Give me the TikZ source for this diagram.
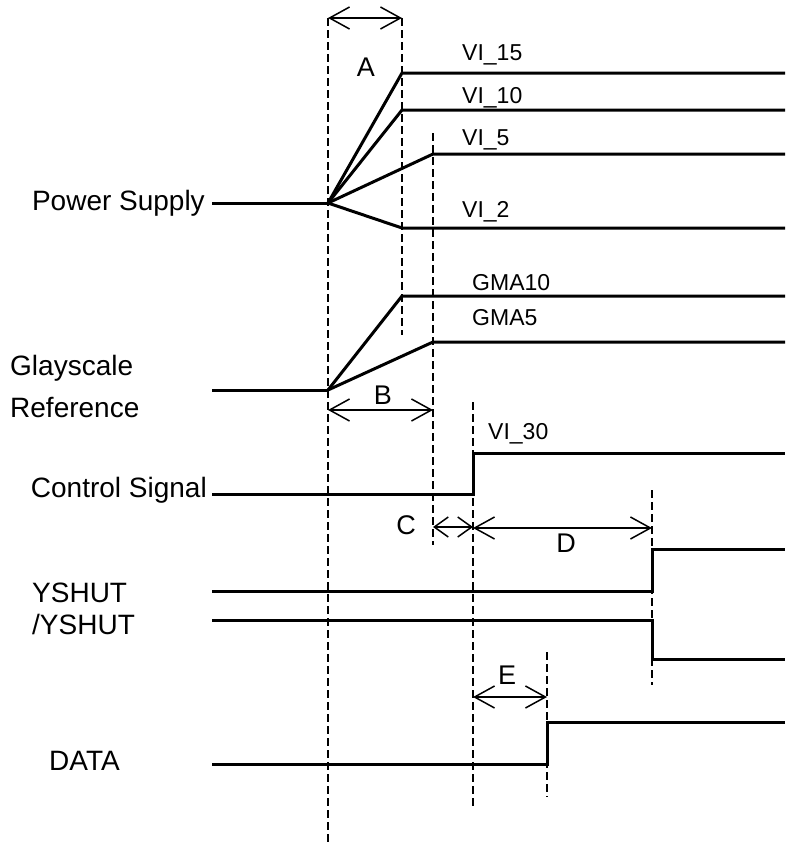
\documentclass[tikz,border=0pt]{standalone}
\usepackage{fontspec}
\setmainfont{Liberation Sans}
\usetikzlibrary{arrows.meta}

\begin{document}
\begin{tikzpicture}[x=1pt,y=-1pt,
  wave/.style={line width=3pt},
  guide/.style={line width=1.3pt,dash pattern=on 8pt off 4pt},
  span/.style={line width=1.5pt,{Straight Barb[length=20pt,width=22pt]}-{Straight Barb[length=20pt,width=22pt]}},
  sig/.style={font=\fontsize{28}{32}\selectfont,inner sep=0pt,anchor=base east},
  lv/.style={font=\fontsize{23}{27}\selectfont,inner sep=0pt,anchor=base west},
  mk/.style={font=\fontsize{27}{30}\selectfont,inner sep=0pt}]
  \useasboundingbox (0,0) rectangle (785,846);
  % signal names
  \node[sig](psl) at (205,210){Power Supply};
  \node[sig,anchor=base west](gsl) at (10,375){Glayscale};
  \node[sig,anchor=base west](rfl) at (10,417){Reference};
  \node[sig](csl) at (207,497){Control Signal};
  \node[sig,anchor=base west](ysl) at (32,602){YSHUT};
  \node[sig,anchor=base west](nysl) at (32,634){/YSHUT};
  \node[sig,anchor=base west](dtl) at (49,770){DATA};
  % timing guides
  \draw[guide] (328,18)--(328,846);
  \draw[guide] (402,18)--(402,335);
  \draw[guide] (433,133)--(433,545);
  \draw[guide] (473,402)--(473,807);
  \draw[guide] (547,652)--(547,797);
  \draw[guide] (652,490)--(652,685);
  % power supply
  \coordinate(ps0) at (212,203);
  \coordinate(ps1) at (328,203);
  \draw[wave] (ps0)--(ps1);
  \draw[wave] (ps1)--(402,73)--(785,73);
  \draw[wave] (ps1)--(402,110)--(785,110);
  \draw[wave] (ps1)--(433,154)--(785,154);
  \draw[wave] (ps1)--(402,228)--(785,228);
  \node[lv](v15) at (462,60){VI\_15};
  \node[lv](v10) at (462,103){VI\_10};
  \node[lv](v5) at (462,145){VI\_5};
  \node[lv](v2) at (462,217){VI\_2};
  % grayscale reference
  \coordinate(gs0) at (212,390);
  \coordinate(gs1) at (328,390);
  \draw[wave] (gs0)--(gs1);
  \draw[wave] (gs1)--(402,296)--(785,296);
  \draw[wave] (gs1)--(433,342)--(785,342);
  \node[lv](g10) at (472,290){GMA10};
  \node[lv](g5) at (472,325){GMA5};
  % control signal
  \draw[wave] (212,494)--(473,494)--(473,453)--(785,453);
  \node[lv](v30) at (488,439){VI\_30};
  % yshut
  \draw[wave] (212,591)--(652,591)--(652,549)--(785,549);
  \draw[wave] (212,620)--(652,620)--(652,659)--(785,659);
  % data
  \draw[wave] (212,764)--(547,764)--(547,722)--(785,722);
  % intervals
  \draw[span] (328,18)--(402,18);
  \node[mk](a) at (366,67){A};
  \draw[span] (328,410)--(433,410);
  \node[mk](b) at (383,395){B};
  \draw[line width=1.5pt,{Straight Barb[length=14pt,width=20pt]}-{Straight Barb[length=14pt,width=20pt]}] (433,527)--(473,527);
  \node[mk](c) at (406,525){C};
  \draw[span] (473,528)--(652,528);
  \node[mk](d) at (566,543){D};
  \draw[span] (473,697)--(547,697);
  \node[mk](e) at (507,675){E};
\end{tikzpicture}
\end{document}
